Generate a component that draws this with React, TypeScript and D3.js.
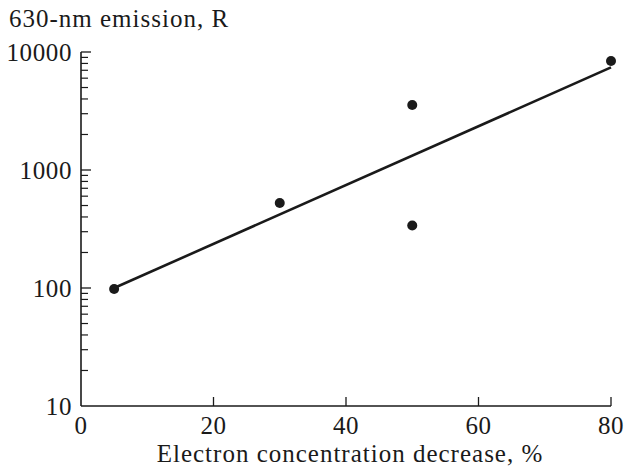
import React from 'react';
import * as d3 from 'd3';

// measured points
const decrease = [5, 30, 50, 50, 80];
const emission = [98, 525, 3550, 338, 8400];

// regression line ends
const fitX = [5, 80];
const fitY = [100, 7400];

const xTicks = [0, 20, 40, 60, 80];
const yTicks = [10, 100, 1000, 10000];

const width = 626;
const height = 468;
const margin = { top: 52, right: 15, bottom: 62, left: 81 };
const ink = "#1a1a1a";

const App = () => {
    const x = d3.scaleLinear()
        .domain([0, 80])
        .range([margin.left, width - margin.right]);

    const y = d3.scaleLog()
        .domain([10, 10000])
        .range([height - margin.bottom, margin.top]);

    const x0 = x(0);
    const y0 = y(10);

    const minors: number[] = [];
    for (let p = 10; p < 10000; p *= 10) {
        for (let k = 2; k <= 9; k++) minors.push(p * k);
    }

    const line = d3.line<number>()
        .x(d => x(d))
        .y((d, i) => y(fitY[i]));

    return (
        <svg width={width} height={height}
            style={{ position: "absolute", left: 0, top: 0, background: "#fff" }}>
            <g style={{ fontFamily: "Liberation Serif" }} fontSize={25} fill={ink}>
                {xTicks.map(d => (
                    <text key={"xl" + d} x={x(d)} y={y0 + 28} textAnchor="middle" letterSpacing={0.6}>{d}</text>
                ))}
                {yTicks.map(d => (
                    <text key={"yl" + d} x={x0 - 9} y={y(d) + 9} textAnchor="end" letterSpacing={0.6}>{d}</text>
                ))}
                <text x={9} y={27} letterSpacing={1}>630-nm emission, R</text>
                <text x={(x(0) + x(80)) / 2 + 4} y={462} textAnchor="middle" letterSpacing={1}>
                    Electron concentration decrease, %
                </text>
            </g>

            {/* axis lines */}
            <line x1={x0} y1={y(10000)} x2={x0} y2={y0} stroke={ink} strokeWidth={1.6} />
            <line x1={x0} y1={y0} x2={x(80)} y2={y0} stroke={ink} strokeWidth={1.6} />

            {/* x ticks, pointing inside */}
            {xTicks.slice(1).map(d => (
                <line key={"xt" + d} x1={x(d)} x2={x(d)} y1={y0} y2={y0 - 9} stroke={ink} strokeWidth={1.3} />
            ))}

            {/* y ticks */}
            {minors.map(d => (
                <line key={"ym" + d} x1={x0} x2={x0 + 7} y1={y(d)} y2={y(d)} stroke={ink} strokeWidth={1.2} />
            ))}
            {yTicks.slice(1).map(d => (
                <line key={"yt" + d} x1={x0} x2={x0 + 10} y1={y(d)} y2={y(d)} stroke={ink} strokeWidth={1.3} />
            ))}

            {/* regression line */}
            <path d={line(fitX) || ""} fill="none" stroke={ink} strokeWidth={2.6} />

            {/* points */}
            {decrease.map((d, i) => (
                <circle key={"p" + i} cx={x(d)} cy={y(emission[i])} r={5} fill={ink} />
            ))}
        </svg>
    );
};

export default App;
